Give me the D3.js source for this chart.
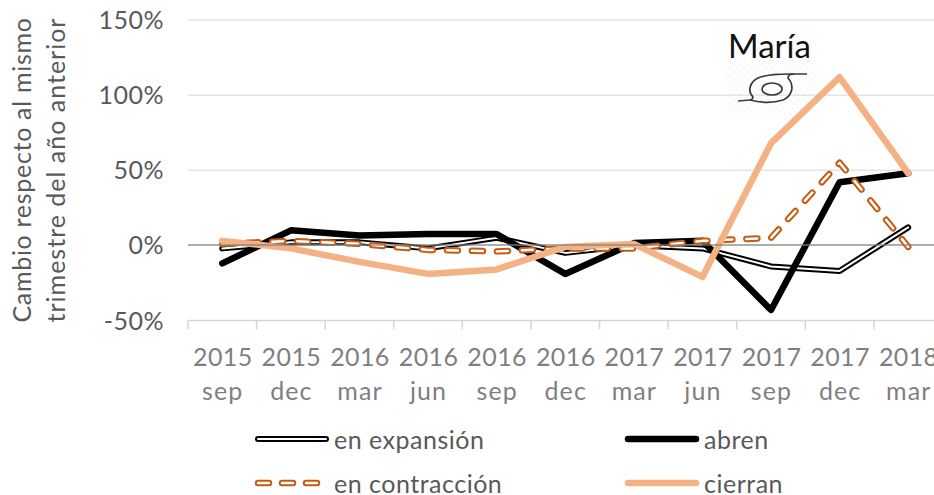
<!DOCTYPE html>
<html><head><meta charset="utf-8">
<script src="https://cdn.jsdelivr.net/npm/d3@7"></script>
<style>html,body{margin:0;padding:0;background:#fff;overflow:hidden}svg{display:block}text{font-family:Lato,"Open Sans",sans-serif}</style>
</head><body><svg id="c" width="934" height="495"></svg>
<script>
const years = ["2015","2015","2016","2016","2016","2016","2017","2017","2017","2017","2018"];
const quarters = ["sep","dec","mar","jun","sep","dec","mar","jun","sep","dec","mar"];
const yTicks = [-50,0,50,100,150];
const enExpansion = [-2,2,2,-2,5,-5,0,-2,-14,-17,12];
const enContraccion = [1,3,1,-3,-4,-2,-2,3,5,55,-1];
const abren = [-12,10,6.5,7.5,7.5,-19,1.5,3,-43,42,48];
const cierran = [3,-2,-11,-19,-16,-1,1,-21,68,112,48];

const svg = d3.select("#c");
const idx = d3.range(years.length);
const x = d3.scaleBand().domain(idx).range([188,942.5]);
const y = d3.scaleLinear().domain([-50,150]).range([320.5,20]);
const cx = i => x(i)+x.bandwidth()/2;
const TXT="#595959", AXT="#7f7f7f";

const defs = svg.append("defs");
const pat = defs.append("pattern").attr("id","hatch").attr("width",5).attr("height",5).attr("patternUnits","userSpaceOnUse").attr("patternTransform","rotate(45)");
pat.append("line").attr("x1",0).attr("x2",5).attr("y1",2).attr("y2",2).attr("stroke","#f1f1f1").attr("stroke-width",1.2).attr("stroke-dasharray","1.5 1.5");

yTicks.filter(t=>t!==-50&&t!==0).forEach(t=>svg.append("line").attr("x1",188).attr("x2",934)
  .attr("y1",y(t)).attr("y2",y(t)).attr("stroke","#e4e4e4").attr("stroke-width",1.5));
svg.append("line").attr("x1",188).attr("x2",934).attr("y1",y(-50)).attr("y2",y(-50)).attr("stroke","#d4d4d4").attr("stroke-width",1.5);
idx.forEach(i=>svg.append("line").attr("x1",x(i)).attr("x2",x(i)).attr("y1",y(-50)).attr("y2",y(-50)+9).attr("stroke","#d4d4d4").attr("stroke-width",1.5));

yTicks.forEach(t=>svg.append("text").attr("x",164).attr("y",y(t)+9).attr("text-anchor","end")
  .attr("font-size",25).attr("fill",TXT).attr("letter-spacing",0.5).text(t+"%"));
idx.forEach(i=>{
  svg.append("text").attr("x",cx(i)+0.5).attr("y",366).attr("text-anchor","middle").attr("font-size",25).attr("letter-spacing",0.4).attr("fill",AXT).text(years[i]);
  svg.append("text").attr("x",cx(i)+0.5).attr("y",400).attr("text-anchor","middle").attr("font-size",25).attr("letter-spacing",1.1).attr("fill",AXT).text(quarters[i]);
});
const yt = svg.append("g").attr("transform","translate(0,170) rotate(-90)");
yt.append("text").attr("x",0).attr("y",31).attr("text-anchor","middle").attr("font-size",25).attr("letter-spacing",0.7).attr("fill",TXT).text("Cambio respecto al mismo");
yt.append("text").attr("x",0).attr("y",65).attr("text-anchor","middle").attr("font-size",25).attr("letter-spacing",1).attr("fill",TXT).text("trimestre  del año anterior");

const line = d3.line().x((d,i)=>cx(i)).y(d=>y(d));
const draw=(g,d,w,c,dash)=>g.append("path").attr("d",typeof d==="string"?d:line(d)).attr("fill","none").attr("stroke",c).attr("stroke-width",w)
  .attr("stroke-linejoin","round").attr("stroke-linecap","round").attr("stroke-dasharray",dash||null);
const g = svg.append("g");
draw(g,enExpansion,6,"#000"); draw(g,enExpansion,2,"#fff");
draw(g,abren,6.5,"#000");
draw(g,enContraccion,6.5,"#c55a11","11 14"); draw(g,enContraccion,2.5,"#fff","11 14");
draw(g,cierran,6.5,"#f4b183");
svg.append("line").attr("x1",188).attr("x2",934).attr("y1",y(0)-0.5).attr("y2",y(0)-0.5).attr("stroke","#808080").attr("stroke-opacity",.85).attr("stroke-width",1.5);

// Hurricane annotation
svg.insert("rect","g").attr("x",726).attr("y",60).attr("width",92).attr("height",58).attr("fill","url(#hatch)");
svg.append("text").attr("x",728).attr("y",58).attr("font-size",33).attr("fill","#111").text("María");
const ic = svg.append("g").attr("transform","translate(772,89)").attr("fill","none").attr("stroke","#3a3a3a").attr("stroke-width",1.7);
ic.append("ellipse").attr("rx",10).attr("ry",6);
ic.append("path").attr("d","M35,-15 L18,-15 C4,-15 -8,-14 -14,-11 C-22,-7 -25,2 -19,8 C-19,10 -21,11 -22,11 L-34,12");
ic.append("path").attr("d","M-22,11 C-14,13 -2,15 11,11 C20,7 23,-3 16,-11 C16,-13 18,-15 22,-15");

// Legend
const legend=(x0,y0,label,f)=>{ f(x0,y0); svg.append("text").attr("x",x0+76).attr("y",y0+10).attr("font-size",25).attr("letter-spacing",.5).attr("fill",TXT).text(label); };
const seg=(x0,y0,w,c,dash)=>draw(svg,`M${x0},${y0}H${x0+68}`,w,c,dash);
legend(258,439,"en expansión",(a,b)=>{seg(a,b,6,"#000");seg(a,b,2,"#fff");});
legend(628,439,"abren",(a,b)=>seg(a,b,6.5,"#000"));
legend(258,483,"en contracción",(a,b)=>{seg(a,b,6.5,"#c55a11","11 13");seg(a,b,2.5,"#fff","11 13");});
legend(628,483,"cierran",(a,b)=>seg(a,b,6.5,"#f4b183"));
</script></body></html>
